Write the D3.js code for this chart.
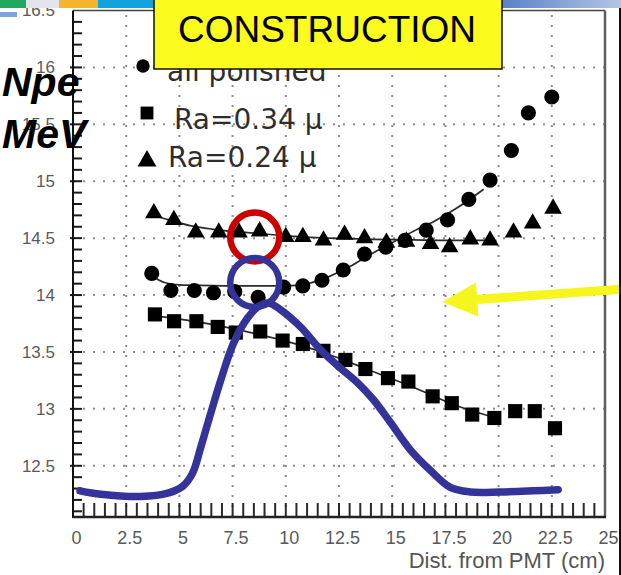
<!DOCTYPE html>
<html>
<head>
<meta charset="utf-8">
<script src="https://cdn.jsdelivr.net/npm/d3@7"></script>
<style>
  html, body { margin: 0; padding: 0; background: #fff; overflow: hidden; }
  svg { display: block; }
</style>
</head>
<body>
<svg id="chart" width="621" height="575"></svg>
<script>
// Axis ticks and labels
const xTicks = [0, 2.5, 5, 7.5, 10, 12.5, 15, 17.5, 20, 22.5, 25];
const xTickLabels = ["0", "2.5", "5", "7.5", "10", "12.5", "15", "17.5", "20", "22.5", "25"];
const yTicks = [12.5, 13, 13.5, 14, 14.5, 15, 15.5, 16, 16.5];
const yTickLabels = ["12.5", "13", "13.5", "14", "14.5", "15", "15.5", "16", "16.5"];
const xTitle = "Dist. from PMT (cm)";
const seriesNames = ["all polished", "Ra=0.34 \u03bc", "Ra=0.24 \u03bc"];

// Measured light yield (Npe/MeV) vs distance from PMT (cm)
const allPolished = [
  [3.7, 14.19], [4.6, 14.04], [5.7, 14.04], [6.6, 14.02], [7.6, 14.03],
  [8.7, 13.98], [9.9, 14.07], [10.8, 14.08], [11.7, 14.13], [12.7, 14.22],
  [13.7, 14.36], [14.7, 14.42], [15.6, 14.48], [16.6, 14.57], [17.6, 14.66],
  [18.6, 14.84], [19.6, 15.01], [20.6, 15.27], [21.4, 15.60], [22.5, 15.74]
];
const ra034 = [
  [3.85, 13.83], [4.75, 13.77], [5.8, 13.77], [6.8, 13.72], [7.65, 13.67],
  [8.8, 13.68], [9.85, 13.60], [10.8, 13.57], [11.77, 13.51], [12.8, 13.43],
  [13.74, 13.35], [14.8, 13.27], [15.76, 13.24], [16.9, 13.11], [17.8, 13.05],
  [18.76, 12.95], [19.8, 12.92], [20.78, 12.98], [21.7, 12.98], [22.65, 12.83]
];
const ra024 = [
  [3.8, 14.72], [4.74, 14.66], [5.77, 14.55], [6.85, 14.55], [7.8, 14.55],
  [8.77, 14.56], [10.0, 14.51], [10.8, 14.51], [11.77, 14.48], [12.76, 14.53],
  [13.7, 14.50], [14.73, 14.46], [15.67, 14.47], [16.8, 14.45], [17.7, 14.42],
  [18.67, 14.49], [19.6, 14.48], [20.7, 14.55], [21.6, 14.63], [22.56, 14.76]
];

// Fitted curves for each series
const fitPolished = [
  [3.7, 14.17], [4.3, 14.11], [5, 14.09], [6, 14.085], [8, 14.08], [10, 14.08],
  [11, 14.10], [12, 14.16], [13, 14.25], [14, 14.36], [15, 14.46], [16, 14.56],
  [17, 14.65], [18, 14.76], [19.3, 14.93]
];
const fit034 = [
  [3.8, 13.82], [6, 13.76], [8, 13.685], [10, 13.595], [12, 13.48],
  [14, 13.335], [16, 13.19], [18, 13.03], [19.9, 12.92]
];
const fit024 = [
  [3.7, 14.71], [4.5, 14.66], [5.5, 14.61], [6.5, 14.58], [7.5, 14.56],
  [8.5, 14.545], [10, 14.52], [12, 14.50], [14, 14.49], [16, 14.485],
  [18, 14.48], [19.9, 14.48]
];

// Hand-drawn overlay: sketched peak, highlight rings and pointer arrow
const sketchCurve = [
  [0.33, 12.28], [1.31, 12.25], [3.19, 12.23], [4.46, 12.26], [5.16, 12.32],
  [5.63, 12.44], [6.0, 12.66], [6.47, 12.96], [6.94, 13.25], [7.55, 13.58],
  [8.21, 13.80], [8.72, 13.90], [9.19, 13.93], [9.76, 13.87], [10.69, 13.72],
  [11.63, 13.52], [12.43, 13.38], [13.37, 13.23], [14.12, 13.08], [14.92, 12.88],
  [15.85, 12.64], [16.79, 12.46], [17.73, 12.31], [18.67, 12.27], [20.08, 12.27],
  [21.62, 12.28], [22.8, 12.29]
];
const redRing = [8.54, 14.51];
const blueRing = [8.54, 14.11];
const arrowTail = [25.75, 14.05];
const arrowTip = [17.35, 13.94];

const svg = d3.select("#chart");
const x = d3.scaleLinear().domain([0, 25]).range([73, 605]);
const y = d3.scaleLinear().domain([12.05, 16.5]).range([517, 10.5]);

const plotLeft = x(0), plotRight = x(25), plotTop = y(16.5), plotBottom = y(12.05);

// Dotted grid
const grid = svg.append("g").attr("stroke", "#8d8d8d").attr("stroke-width", 2)
  .attr("stroke-dasharray", "2,8");
grid.selectAll("line.h").data(yTicks.filter(v => v < 16.5)).join("line")
  .attr("class", "h").attr("x1", plotLeft).attr("x2", plotRight)
  .attr("y1", d => y(d)).attr("y2", d => y(d));
grid.selectAll("line.v").data(xTicks.filter(v => v > 0 && v < 25)).join("line")
  .attr("class", "v").attr("y1", plotBottom).attr("y2", plotTop)
  .attr("x1", d => x(d)).attr("x2", d => x(d));

// Frame
svg.append("line").attr("x1", plotLeft).attr("x2", plotRight).attr("y1", plotTop).attr("y2", plotTop)
  .attr("stroke", "#444").attr("stroke-width", 1.5);
svg.append("line").attr("x1", plotRight).attr("x2", plotRight).attr("y1", plotTop).attr("y2", plotBottom)
  .attr("stroke", "#5e5e5e").attr("stroke-width", 2.5);

// Minor/major ticks
const yMinor = d3.range(121, 165, 1).map(v => v / 10);
svg.append("g").selectAll("line").data(yMinor).join("line")
  .attr("x1", d => (Math.round(d * 10) % 5 === 0) ? plotLeft - 3 : plotLeft - 1)
  .attr("x2", plotLeft + 9)
  .attr("y1", d => y(d)).attr("y2", d => y(d))
  .attr("stroke", "#1a1a1a").attr("stroke-width", 2);
const xMinor = d3.range(1, 50, 1).map(v => v / 2);
svg.append("g").selectAll("line").data(xMinor).join("line")
  .attr("x1", d => x(d)).attr("x2", d => x(d))
  .attr("y1", plotBottom - 14).attr("y2", plotBottom)
  .attr("stroke", "#2a2a2a").attr("stroke-width", 2);

// Axis lines
svg.append("line").attr("x1", plotLeft).attr("x2", plotLeft).attr("y1", plotTop).attr("y2", plotBottom + 1)
  .attr("stroke", "#111").attr("stroke-width", 2);
svg.append("line").attr("x1", plotLeft).attr("x2", plotRight + 1).attr("y1", plotBottom).attr("y2", plotBottom)
  .attr("stroke", "#222").attr("stroke-width", 2.5);

// Tick labels
const xAxis = svg.append("g").attr("transform", `translate(3,${plotBottom})`)
  .call(d3.axisBottom(x).tickValues(xTicks).tickFormat((d, i) => xTickLabels[i])
    .tickSize(0).tickPadding(14));
xAxis.select(".domain").remove();
xAxis.selectAll("text").attr("font-family", "Liberation Sans, Arial, sans-serif")
  .attr("font-size", 18).attr("fill", "#5a5a5a");

const yAxis = svg.append("g").attr("transform", `translate(${plotLeft},0)`)
  .call(d3.axisLeft(y).tickValues(yTicks).tickFormat((d, i) => yTickLabels[i])
    .tickSize(0).tickPadding(18));
yAxis.select(".domain").remove();
yAxis.selectAll("text").attr("font-family", "Liberation Sans, Arial, sans-serif")
  .attr("font-size", 17).attr("fill", "#5a5a5a");

svg.append("text").attr("x", 605).attr("y", 568).attr("text-anchor", "end")
  .attr("font-family", "Liberation Sans, Arial, sans-serif").attr("font-size", 22)
  .attr("fill", "#555").text(xTitle);

// Fit curves
const line = d3.line().x(d => x(d[0])).y(d => y(d[1])).curve(d3.curveMonotoneX);
[fitPolished, fit034, fit024].forEach(f => {
  svg.append("path").attr("d", line(f)).attr("fill", "none")
    .attr("stroke", "#2b2b2b").attr("stroke-width", 1.7);
});

// Markers
const sym = {
  circle: d3.symbol().type(d3.symbolCircle).size(180),
  square: d3.symbol().type(d3.symbolSquare).size(200),
  triangle: d3.symbol().type(d3.symbolTriangle).size(135)
};
const series = [
  { data: allPolished, shape: "circle" },
  { data: ra034, shape: "square" },
  { data: ra024, shape: "triangle" }
];
series.forEach(s => {
  svg.append("g").selectAll("path").data(s.data).join("path")
    .attr("d", sym[s.shape]())
    .attr("transform", d => `translate(${x(d[0])},${y(d[1])})`)
    .attr("fill", "#000");
});

// Legend
const legend = [
  { shape: "circle", size: 140, mx: 143, my: 66, tx: 167, ty: 81 },
  { shape: "square", size: 165, mx: 147, my: 113, tx: 174, ty: 129 },
  { shape: "triangle", size: 155, mx: 147, my: 161, tx: 168, ty: 167 }
];
legend.forEach((l, i) => {
  const t = { circle: d3.symbolCircle, square: d3.symbolSquare, triangle: d3.symbolTriangle }[l.shape];
  svg.append("path").attr("d", d3.symbol().type(t).size(l.size)())
    .attr("transform", `translate(${l.mx},${l.my})`).attr("fill", "#000");
  svg.append("text").attr("x", l.tx).attr("y", l.ty)
    .attr("font-family", "DejaVu Sans, sans-serif").attr("font-size", 28)
    .attr("fill", "#2e2e2e").text(seriesNames[i]);
});

// Overlay sketch
const sketch = d3.line().x(d => x(d[0])).y(d => y(d[1])).curve(d3.curveCatmullRom);
svg.append("path").attr("d", sketch(sketchCurve)).attr("fill", "none")
  .attr("stroke", "#33339a").attr("stroke-width", 7.5)
  .attr("stroke-linecap", "round").attr("stroke-linejoin", "round");
svg.append("circle").attr("cx", x(redRing[0])).attr("cy", y(redRing[1])).attr("r", 24.5)
  .attr("fill", "none").attr("stroke", "#cc0000").attr("stroke-width", 6.5);
svg.append("circle").attr("cx", x(blueRing[0])).attr("cy", y(blueRing[1])).attr("r", 24.5)
  .attr("fill", "none").attr("stroke", "#33339a").attr("stroke-width", 6.5);

// Pointer arrow
{
  const tx = x(arrowTip[0]), ty = y(arrowTip[1]);
  const sx = x(arrowTail[0]), sy = y(arrowTail[1]);
  const ang = Math.atan2(ty - sy, tx - sx);
  const headLen = 35, headHalf = 17;
  const bx = tx - headLen * Math.cos(ang), by = ty - headLen * Math.sin(ang);
  const nx = -Math.sin(ang), ny = Math.cos(ang);
  svg.append("line").attr("x1", sx).attr("y1", sy).attr("x2", bx + 2 * Math.cos(ang)).attr("y2", by + 2 * Math.sin(ang))
    .attr("stroke", "#f6f61e").attr("stroke-width", 9);
  svg.append("polygon")
    .attr("points", [[tx, ty], [bx + nx * headHalf, by + ny * headHalf], [bx - nx * headHalf, by - ny * headHalf]].map(p => p.join(",")).join(" "))
    .attr("fill", "#f6f61e");
}

// Slide decoration strip
const strip = [
  [0, 26, "#22a85e"], [26, 59, "#e4e4ef"], [59, 98, "#f3b530"], [98, 154, "#14a2de"]
];
svg.append("g").selectAll("rect").data(strip).join("rect")
  .attr("x", d => d[0]).attr("width", d => d[1] - d[0]).attr("y", 0).attr("height", 8)
  .attr("fill", d => d[2]);
const grad = svg.append("defs").append("linearGradient").attr("id", "bar");
grad.append("stop").attr("offset", "0%").attr("stop-color", "#5a7fc6");
grad.append("stop").attr("offset", "100%").attr("stop-color", "#b3c6e6");
svg.append("rect").attr("x", 500).attr("y", 0).attr("width", 121).attr("height", 8).attr("fill", "url(#bar)");
svg.append("rect").attr("x", 0).attr("y", 12).attr("width", 17).attr("height", 5).attr("fill", "#7aa3df");
svg.append("rect").attr("x", 619).attr("y", 8).attr("width", 2).attr("height", 567).attr("fill", "#111");

// Title box
svg.append("rect").attr("x", 154).attr("y", -2).attr("width", 348).attr("height", 71)
  .attr("fill", "#fbfb1e").attr("stroke", "#111").attr("stroke-width", 1.5);
svg.append("text").attr("x", 327).attr("y", 42).attr("text-anchor", "middle")
  .attr("font-family", "Liberation Sans, Arial, sans-serif").attr("font-size", 37)
  .attr("fill", "#000").text("CONSTRUCTION");

// Axis unit label
svg.append("text").attr("x", 2).attr("y", 96)
  .attr("font-family", "Liberation Sans, Arial, sans-serif").attr("font-size", 41)
  .attr("font-weight", "bold").attr("font-style", "italic").attr("fill", "#000").text("Npe");
svg.append("text").attr("x", 2).attr("y", 148)
  .attr("font-family", "Liberation Sans, Arial, sans-serif").attr("font-size", 41)
  .attr("font-weight", "bold").attr("font-style", "italic").attr("fill", "#000").text("MeV");
</script>
</body>
</html>
